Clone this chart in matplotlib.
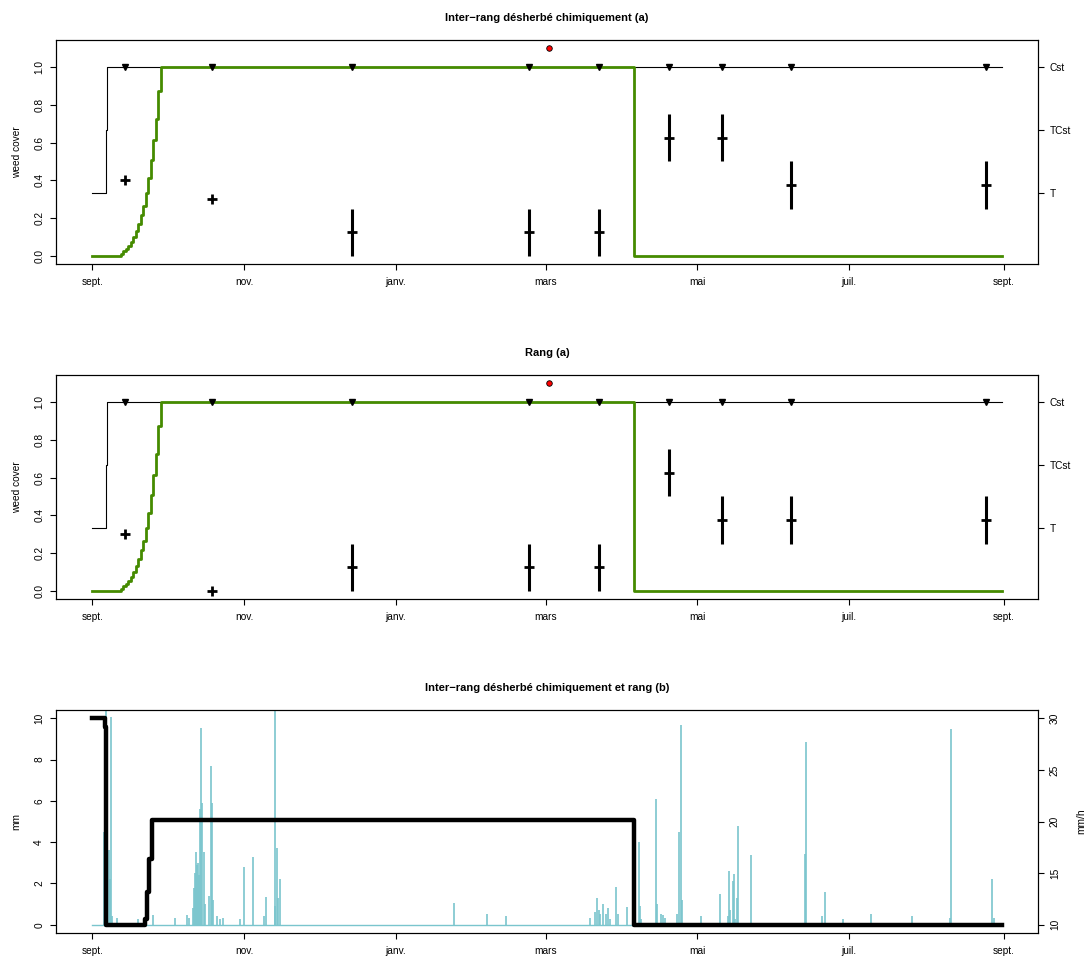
import numpy as np
import matplotlib
matplotlib.use("Agg")
import matplotlib.pyplot as plt

plt.rcParams['font.family'] = ['Liberation Sans', 'DejaVu Sans']

# ---------------- data ----------------
start = np.datetime64('2019-09-01')
tick_dates = ['2019-09-01', '2019-11-01', '2020-01-01', '2020-03-01',
              '2020-05-01', '2020-07-01', '2020-09-01']
tick_labels = ['sept.', 'nov.', 'janv.', 'mars', 'mai', 'juil.', 'sept.']
end_day = 365.2

# presence (black thin step line), days since 1 Sept
presence_days = [0, 5.4, 6.0, 365.2]
presence_vals = [1/3, 2/3, 1.0, 1.0]

# simulated cover (green step line)
green_days = [0, 11.5, 12.5, 13.5, 14.5, 15.5, 16.5, 17.5, 18.5, 19.5, 20.5,
              21.5, 22.5, 23.5, 24.5, 25.5, 26.5, 27.7, 217.5, 365.2]
green_vals = [0.0, 0.011, 0.023, 0.037, 0.053, 0.074, 0.099, 0.129, 0.168,
              0.216, 0.266, 0.33, 0.41, 0.507, 0.613, 0.727, 0.874, 1.0, 0.0, 0.0]

# observation dates
obs_days = [13.0, 48.2, 104.3, 175.5, 203.6, 231.6, 252.7, 280.6, 359.1]

# panel (a) inter-rang
obs1 = [0.4, 0.3, 0.125, 0.125, 0.125, 0.625, 0.625, 0.375, 0.375]
lo1 = [0.4, 0.3, 0.0, 0.0, 0.0, 0.5, 0.5, 0.25, 0.25]
hi1 = [0.4, 0.3, 0.25, 0.25, 0.25, 0.75, 0.75, 0.5, 0.5]
# panel (a) rang
obs2 = [0.3, 0.0, 0.125, 0.125, 0.125, 0.625, 0.375, 0.375, 0.375]
lo2 = [0.3, 0.0, 0.0, 0.0, 0.0, 0.5, 0.25, 0.25, 0.25]
hi2 = [0.3, 0.0, 0.25, 0.25, 0.25, 0.75, 0.5, 0.5, 0.5]

red_day = 183.4
red_val = 1.1

right_ticks = [1/3, 2/3, 1.0]
right_labels = ['T', 'TCst', 'Cst']

# rainfall (mm)
rain_days = [4.7, 5.1, 5.6, 6.5, 6.9, 7.6, 8.0, 9.9,
             18.2, 24.2, 33.0, 38.0, 38.9,
             40.4, 40.7, 41.1, 41.5, 41.9, 42.3, 42.7, 43.3, 43.7, 44.0, 44.9, 45.3,
             47.0, 47.6, 48.2, 48.6, 50.0, 51.1, 52.4,
             59.4, 61.0, 64.5, 69.0, 69.6, 73.2, 73.4, 74.1, 74.5, 75.4,
             145.3, 158.4, 166.0,
             199.7, 202.0, 202.7, 203.5, 204.0, 204.9, 206.2, 207.0, 207.9,
             210.2, 211.0, 214.8, 219.7, 220.1, 220.5,
             226.2, 226.7, 228.4, 229.0, 230.0,
             235.0, 235.8, 236.4, 236.8, 244.3,
             252.2, 255.1, 255.5, 256.0, 257.2, 257.6, 258.2, 259.0, 259.4,
             264.5, 286.4, 286.8, 293.2, 294.4, 301.4, 312.6, 329.1,
             344.6, 345.0, 361.5, 362.0]
rain_mm = [4.5, 5.4, 12.0, 3.6, 2.2, 10.05, 0.4, 0.35,
           0.3, 0.45, 0.35, 0.45, 0.35,
           0.8, 1.8, 2.5, 3.5, 2.9, 3.0, 2.4, 5.6, 9.55, 5.9, 3.5, 1.0,
           1.4, 7.7, 5.9, 1.2, 0.4, 0.3, 0.35,
           0.3, 2.8, 3.3, 0.4, 1.35, 0.9, 12.0, 3.7, 1.3, 2.2,
           1.03, 0.5, 0.42,
           0.35, 0.6, 1.3, 0.7, 0.5, 1.0, 0.5, 0.8, 0.3,
           1.85, 0.5, 0.85, 4.0, 0.9, 0.3,
           6.1, 1.0, 0.5, 0.45, 0.35,
           0.5, 4.5, 9.65, 1.2, 0.4,
           1.5, 0.4, 2.6, 0.7, 2.1, 2.45, 0.3, 1.3, 4.8,
           3.4, 3.45, 8.85, 0.4, 1.6, 0.3, 0.5, 0.4,
           0.35, 9.5, 2.2, 0.35]

# infiltration (mm/h), black thick step line
infil_days = [0, 4.9, 5.5, 21.0, 22.0, 22.9, 24.0, 217.5, 365.2]
infil_vals = [30, 29.2, 10, 10.6, 13.15, 16.4, 20.1, 10, 10]

titles = ['Inter\u2212rang désherbé chimiquement (a)', 'Rang (a)',
          'Inter\u2212rang désherbé chimiquement et rang (b)']

# ---------------- style ----------------
GREEN = '#458B00'
CYAN = '#7AC5CD'
FS = 7.3
W, H = 1086, 959
fig = plt.figure(figsize=(W / 100, H / 100), dpi=100)

tick_pos = [(np.datetime64(d) - start).astype(int) for d in tick_dates]
span = end_day - 0
xlim = (0 - 0.04 * span, end_day + 0.04 * span)


def frame(ax):
    for s in ax.spines.values():
        s.set_linewidth(0.8)
        s.set_color('black')
    ax.set_xlim(*xlim)
    ax.set_xticks(tick_pos)
    ax.set_xticklabels(tick_labels)
    ax.tick_params(axis='both', direction='out', length=4.5, width=0.8,
                   labelsize=FS, pad=4)
    ax.tick_params(axis='x', pad=5)


def rect(top, bottom):
    return [56 / W, 1 - bottom / H, (1038 - 56) / W, (bottom - top) / H]


def cover_panel(rectpx, title, obs, lo, hi):
    ax = fig.add_axes(rect(*rectpx))
    ax.step(presence_days, presence_vals, where='post', color='black', lw=0.8, zorder=2)
    ax.step(green_days, green_vals, where='post', color=GREEN, lw=2.0, zorder=3)
    ax.plot(obs_days, [1.0] * len(obs_days), linestyle='none', marker='v',
            color='black', markersize=5, zorder=4)
    ax.vlines(obs_days, lo, hi, color='black', lw=2.2, zorder=4)
    ax.plot(obs_days, obs, linestyle='none', marker='+', color='black',
            markersize=7, mew=2.0, zorder=5)
    ax.plot([red_day], [red_val], linestyle='none', marker='o', markersize=4,
            markerfacecolor='red', markeredgecolor='black', markeredgewidth=0.6, zorder=5)
    frame(ax)
    ax.set_ylim(-0.044, 1.144)
    ax.set_yticks([0, 0.2, 0.4, 0.6, 0.8, 1.0])
    ax.set_yticklabels(['0.0', '0.2', '0.4', '0.6', '0.8', '1.0'], rotation=90, va='center')
    ax.set_ylabel('weed cover', fontsize=FS, labelpad=9)
    ax.set_title(title, fontsize=8, fontweight='bold', pad=14)
    ax2 = ax.twinx()
    ax2.set_ylim(ax.get_ylim())
    ax2.set_yticks(right_ticks)
    ax2.set_yticklabels(right_labels)
    ax2.tick_params(axis='y', direction='out', length=4.5, width=0.8,
                    labelsize=FS, pad=4)
    for s in ax2.spines.values():
        s.set_linewidth(0.8)
    return ax


cover_panel((40, 264), titles[0], obs1, lo1, hi1)
cover_panel((375, 599), titles[1], obs2, lo2, hi2)

# bottom panel
ax = fig.add_axes(rect(710, 933))
ax.plot([0, end_day], [0, 0], color=CYAN, lw=1.0, zorder=2)
ax.vlines(rain_days, 0, rain_mm, color=CYAN, lw=1.2, zorder=2)
frame(ax)
ax.set_ylim(-0.4, 10.4)
ax.set_yticks([0, 2, 4, 6, 8, 10])
ax.set_yticklabels(['0', '2', '4', '6', '8', '10'], rotation=90, va='center')
ax.set_ylabel('mm', fontsize=FS, labelpad=9)
ax.set_title(titles[2], fontsize=8, fontweight='bold', pad=14)
ax2 = ax.twinx()
ax2.step(infil_days, infil_vals, where='post', color='black', lw=3.2, zorder=3)
ax2.set_xlim(*xlim)
ax2.set_ylim(9.2, 30.8)
ax2.set_yticks([10, 15, 20, 25, 30])
ax2.set_yticklabels(['10', '15', '20', '25', '30'], rotation=90, va='center')
ax2.tick_params(axis='y', direction='out', length=4.5, width=0.8, labelsize=FS, pad=4)
ax2.set_ylabel('mm/h', fontsize=FS, labelpad=12)
for s in ax2.spines.values():
    s.set_linewidth(0.8)

fig.savefig('out.png', dpi=100)
